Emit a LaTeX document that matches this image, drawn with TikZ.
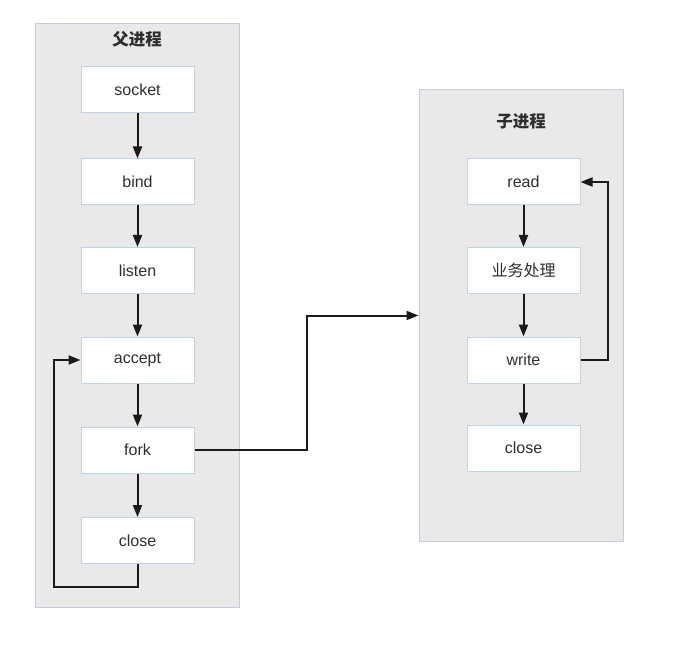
\documentclass[tikz,border=0pt]{standalone}
\usepackage{fontspec}
\setmainfont{Liberation Sans}
\newfontfamily\cjk{Noto Sans CJK SC}
\usetikzlibrary{arrows.meta}
\definecolor{contfill}{HTML}{E9E9E9}
\definecolor{contline}{HTML}{C6CFD9}
\definecolor{boxline}{HTML}{C5D2DF}
\definecolor{txt}{HTML}{2E2E2E}
\definecolor{conn}{HTML}{1A1A1A}
\begin{document}
\begin{tikzpicture}[x=1pt,y=-1pt,
  container/.style={draw=contline, fill=contfill, line width=1pt, inner sep=0pt},
  stepbox/.style={draw=boxline, fill=white, line width=1pt, minimum width=113pt, minimum height=46pt, inner sep=0pt, text=txt, font=\fontsize{16}{19}\selectfont},
  title/.style={text=txt, font=\cjk\bfseries\fontsize{16.5}{20}\selectfont},
  flow/.style={draw=conn, line width=2pt, -{Triangle[length=12pt,width=9pt]}},
  plain/.style={draw=conn, line width=2pt}]
\useasboundingbox (0,0) rectangle (678,650);
% containers
\node[container, minimum width=204pt, minimum height=583pt] (lc) at (137,315.5) {};
\node[container, minimum width=204pt, minimum height=451pt] (rc) at (521,315.5) {};
\node[title] (lt) at (137,39) {父进程};
\node[title] (rt) at (521,121) {子进程};
% left boxes
\node[stepbox] (socket) at (137.5,90) {socket};
\node[stepbox] (bind) at (137.5,182) {bind};
\node[stepbox] (listen) at (137.5,270.5) {listen};
\node[stepbox] (accept) at (137.5,360) {accept};
\node[stepbox] (fork) at (137.5,450) {fork};
\node[stepbox] (lclose) at (137.5,540.5) {close};
% right boxes
\node[stepbox] (read) at (523.5,182) {read};
\node[stepbox] (biz) at (523.5,270.5) {\cjk 业务处理};
\node[stepbox] (write) at (523.5,360) {write};
\node[stepbox] (rclose) at (523.5,448) {close};
% coordinates
\coordinate (k1) at (307,450);
\coordinate (b1) at (54,587);
\coordinate (r1) at (608,360);
% connectors
\draw[flow] (socket) -- (bind);
\draw[flow] (bind) -- (listen);
\draw[flow] (listen) -- (accept);
\draw[flow] (accept) -- (fork);
\draw[flow] (fork) -- (lclose);
\draw[flow] (lclose.south) |- (b1) |- (accept.west);
\draw[flow] (fork.east) -- (k1) |- (rc.west);
\draw[flow] (read) -- (biz);
\draw[flow] (biz) -- (write);
\draw[flow] (write) -- (rclose);
\draw[flow] (write.east) -- (r1) |- (read.east);
\end{tikzpicture}
\end{document}
